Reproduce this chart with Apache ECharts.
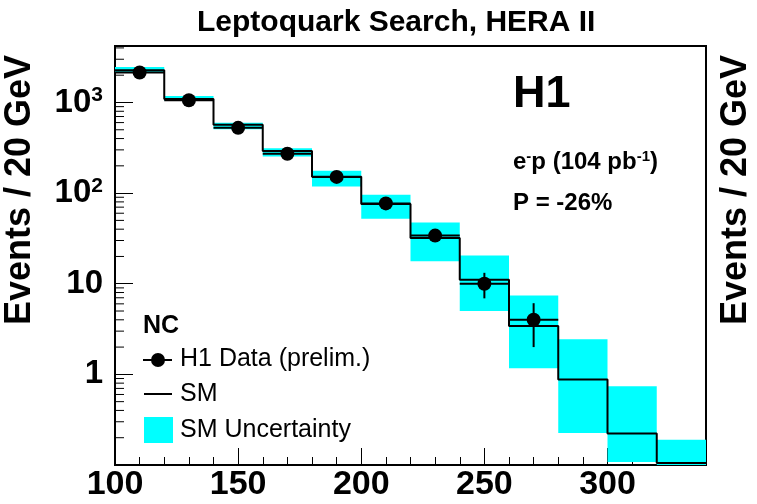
<!DOCTYPE html>
<html>
<head>
<meta charset="utf-8">
<script src="https://cdn.jsdelivr.net/npm/echarts@6/dist/echarts.min.js"></script>
<style>
  html, body { margin: 0; padding: 0; background: #fff; }
  #chart { width: 757px; height: 504px; }
</style>
</head>
<body>
<div id="chart"></div>
<script>
// bins of 20 GeV, left edges
const binEdges = [100, 120, 140, 160, 180, 200, 220, 240, 260, 280, 300, 320, 340]
// SM expectation per bin
const smValues = [2265, 1095, 567, 292, 152, 76, 32, 11.1, 3.42, 0.88, 0.222, 0.105]
// SM uncertainty band (low / high) per bin
const smLow = [2115, 1045, 505, 253, 118, 52, 17.7, 5.0, 1.17, 0.226, 0.108, 0.05]
const smHigh = [2460, 1180, 597, 312, 176, 96, 47.5, 20.5, 7.4, 2.44, 0.74, 0.19]
// H1 data points (bin centres)
const dataX = [110, 130, 150, 170, 190, 210, 230, 250, 270]
const dataY = [2140, 1060, 525, 272, 151, 77, 34, 10, 4]
const dataLow = [2095, 1027, 502, 256, 139, 68, 29, 6.9, 2.0]
const dataHigh = [2185, 1093, 548, 288, 163, 86, 39.5, 13.2, 6.1]
// axis ticks
const xMajorTicks = [100, 150, 200, 250, 300]
const yDecades = [1, 10, 100, 1000]
const yMinorTicks = [0.2, 0.3, 0.4, 0.5, 0.6, 0.7, 0.8, 0.9,
  2, 3, 4, 5, 6, 7, 8, 9, 20, 30, 40, 50, 60, 70, 80, 90,
  200, 300, 400, 500, 600, 700, 800, 900, 2000, 3000, 4000]

const FONT = "'Liberation Sans', Arial, Helvetica, sans-serif"
const CYAN = "#00ffff"

let myChart = echarts.init(document.getElementById("chart"))

// step line points: each bin value starts at its left edge, last one closes at 340
let smLine = binEdges.map((e, i) => [e, smValues[Math.min(i, smValues.length - 1)]])

let bands = smValues.map((v, i) => [binEdges[i], binEdges[i + 1], smLow[i], smHigh[i]])
let errBars = dataX.map((x, i) => [x, dataY[i], dataLow[i], dataHigh[i]])

myChart.setOption({
  animation: false,
  backgroundColor: "#fff",
  title: {
    text: "Leptoquark Search, HERA II",
    left: 192,
    top: 3,
    textStyle: { fontFamily: FONT, fontWeight: "bold", fontSize: 30, color: "#000" },
  },
  grid: {
    left: 115,
    right: 51,
    top: 46,
    bottom: 39,
    show: true,
    borderColor: "#000",
    borderWidth: 2,
    backgroundColor: "#fff",
  },
  xAxis: [
    {
      type: "value",
      min: 100,
      max: 340,
      interval: 50,
      axisLine: { show: true, lineStyle: { color: "#000", width: 2 } },
      axisTick: { inside: true, length: 17, lineStyle: { color: "#000", width: 1 } },
      splitLine: { show: false },
      axisLabel: {
        margin: 3,
        fontFamily: FONT,
        fontWeight: "bold",
        fontSize: 34,
        color: "#000",
        formatter: (v) => (xMajorTicks.includes(v) ? String(v) : ""),
      },
    },
    {
      // minor ticks every 10 GeV
      type: "value",
      min: 100,
      max: 340,
      interval: 10,
      position: "bottom",
      axisLine: { show: false },
      axisTick: { inside: true, length: 8, lineStyle: { color: "#000", width: 1 } },
      axisLabel: { show: false },
      splitLine: { show: false },
    },
  ],
  yAxis: {
    type: "log",
    logBase: 10,
    min: 0.1,
    max: 4200,
    axisLine: { show: true, lineStyle: { color: "#000", width: 2 } },
    axisTick: { inside: true, length: 18, lineStyle: { color: "#000", width: 1 } },
    splitLine: { show: false },
    axisLabel: {
      margin: 12,
      fontFamily: FONT,
      fontWeight: "bold",
      fontSize: 33,
      color: "#000",
      formatter: (v) => {
        let p = Math.round(Math.log10(v))
        if (!yDecades.includes(Math.pow(10, p))) return ""
        if (p === 0) return "1"
        if (p === 1) return "10"
        return "10{s|" + p + "}"
      },
      rich: {
        s: { fontFamily: FONT, fontWeight: "bold", fontSize: 21, color: "#000", verticalAlign: "top", padding: [0, 0, 14, 0] },
      },
    },
  },
  graphic: [
    // axis titles
    {
      type: "text", x: 20, y: 190, rotation: Math.PI / 2,
      style: { text: "Events / 20 GeV", font: "bold 36px " + FONT, fill: "#000", align: "center", verticalAlign: "middle" },
    },
    {
      type: "text", x: 736, y: 190, rotation: Math.PI / 2,
      style: { text: "Events / 20 GeV", font: "bold 36px " + FONT, fill: "#000", align: "center", verticalAlign: "middle" },
    },
    // labels in the plot
    {
      type: "text", x: 513, y: 95,
      style: { text: "H1", font: "bold 45px " + FONT, fill: "#000", verticalAlign: "middle" },
    },
    {
      type: "text", x: 513, y: 162,
      style: {
        text: "e{s|-}p (104 pb{s|-1})",
        font: "bold 24px " + FONT, fill: "#000", verticalAlign: "middle",
        rich: { s: { font: "bold 15px " + FONT, fill: "#000", verticalAlign: "top", padding: [0, 0, 10, 0] } },
      },
    },
    {
      type: "text", x: 513, y: 203,
      style: { text: "P = -26%", font: "bold 24px " + FONT, fill: "#000", verticalAlign: "middle" },
    },
    // legend
    {
      type: "text", x: 143, y: 326,
      style: { text: "NC", font: "bold 25px " + FONT, fill: "#000", verticalAlign: "middle" },
    },
    { type: "line", shape: { x1: 143, y1: 360, x2: 172, y2: 360 }, style: { stroke: "#000", lineWidth: 2 } },
    { type: "circle", shape: { cx: 158, cy: 360, r: 7 }, style: { fill: "#000" } },
    {
      type: "text", x: 180, y: 359,
      style: { text: "H1 Data (prelim.)", font: "25px " + FONT, fill: "#000", verticalAlign: "middle" },
    },
    { type: "line", shape: { x1: 144, y1: 394, x2: 172, y2: 394 }, style: { stroke: "#000", lineWidth: 2 } },
    {
      type: "text", x: 180, y: 394,
      style: { text: "SM", font: "25px " + FONT, fill: "#000", verticalAlign: "middle" },
    },
    { type: "rect", shape: { x: 144, y: 417, width: 29, height: 26 }, style: { fill: CYAN } },
    {
      type: "text", x: 180, y: 430,
      style: { text: "SM Uncertainty", font: "25px " + FONT, fill: "#000", verticalAlign: "middle" },
    },
  ],
  series: [
    {
      // SM uncertainty boxes
      name: "SM Uncertainty",
      type: "custom",
      clip: true,
      z: 1,
      data: bands,
      renderItem: (params, api) => {
        let p0 = api.coord([api.value(0), api.value(3)])
        let p1 = api.coord([api.value(1), api.value(2)])
        return {
          type: "rect",
          shape: { x: p0[0], y: p0[1], width: p1[0] - p0[0], height: p1[1] - p0[1] },
          style: { fill: CYAN },
        }
      },
    },
    {
      name: "SM",
      type: "line",
      step: "end",
      z: 2,
      showSymbol: false,
      data: smLine,
      lineStyle: { color: "#000", width: 2 },
    },
    {
      // data error bars: bin width and stat. error
      name: "errors",
      type: "custom",
      z: 3,
      data: errBars,
      renderItem: (params, api) => {
        let x = api.value(0)
        let c = api.coord([x, api.value(1)])
        let l = api.coord([x - 10, api.value(1)])
        let r = api.coord([x + 10, api.value(1)])
        let lo = api.coord([x, api.value(2)])
        let hi = api.coord([x, api.value(3)])
        return {
          type: "group",
          children: [
            { type: "line", shape: { x1: l[0], y1: c[1], x2: r[0], y2: c[1] }, style: { stroke: "#000", lineWidth: 2 } },
            { type: "line", shape: { x1: c[0], y1: lo[1], x2: c[0], y2: hi[1] }, style: { stroke: "#000", lineWidth: 2 } },
          ],
        }
      },
    },
    {
      name: "H1 Data (prelim.)",
      type: "scatter",
      z: 4,
      symbol: "circle",
      symbolSize: 14,
      itemStyle: { color: "#000", opacity: 1 },
      data: dataX.map((x, i) => [x, dataY[i]]),
    },
    {
      // minor log ticks on the y axis
      name: "yminor",
      type: "custom",
      z: 5,
      silent: true,
      data: yMinorTicks.map((v) => [100, v]),
      renderItem: (params, api) => {
        let p = api.coord([api.value(0), api.value(1)])
        return {
          type: "line",
          shape: { x1: p[0], y1: p[1], x2: p[0] + 9, y2: p[1] },
          style: { stroke: "#000", lineWidth: 1 },
        }
      },
    },
  ],
})
</script>
</body>
</html>
